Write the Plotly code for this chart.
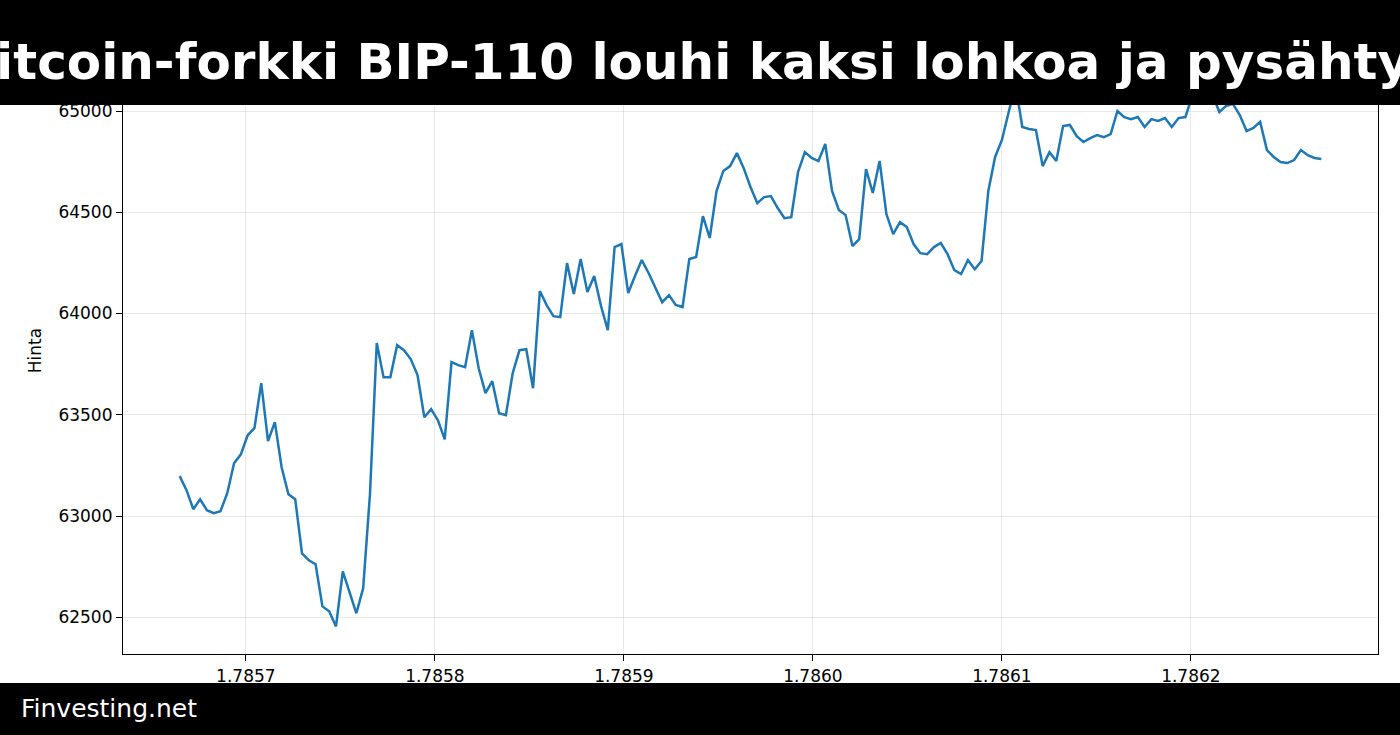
import numpy as np
import plotly.graph_objects as go

prices = [63197,63128,63034,63083,63029,63014,63024,63113,63261,63305,63399,63434,63656,63370,63464,63241,
63108,63083,62816,62782,62762,62554,62530,62455,62727,62619,62520,62644,63108,63854,63686,63686,63844,
63819,63775,63696,63488,63528,63473,63379,63760,63745,63735,63918,63730,63607,63666,63508,63498,63705,
63819,63824,63631,64111,64042,63987,63982,64249,64096,64269,64106,64185,64037,63918,64328,64343,64101,
64185,64264,64200,64130,64056,64091,64042,64032,64269,64279,64481,64373,64605,64704,64728,64792,64718,
64625,64545,64575,64580,64521,64471,64476,64699,64797,64768,64753,64837,64605,64511,64486,64333,64367,
64713,64595,64753,64491,64392,64451,64427,64343,64298,64293,64328,64348,64293,64214,64195,64264,64219,
64259,64605,64773,64857,64995,65130,64921,64911,64906,64728,64797,64753,64926,64931,64876,64847,64866,
64881,64871,64886,65000,64970,64960,64970,64921,64960,64951,64965,64921,64965,64970,65080,65180,65150,
65080,64995,65025,65035,64980,64901,64916,64946,64807,64773,64748,64743,64758,64807,64782,64768,64763]
t_start, t_end = 1.785665, 1.786269
times = np.linspace(t_start, t_end, len(prices))
y_ticks = [62500, 63000, 63500, 64000, 64500, 65000]
x_ticks = [1.7857, 1.7858, 1.7859, 1.7860, 1.7861, 1.7862]
title = "Bitcoin-forkki BIP-110 louhi kaksi lohkoa ja pysähtyy"

fig = go.Figure(go.Scatter(x=times, y=prices, mode="lines",
                           line=dict(color="#1f77b4", width=2.5), hoverinfo="skip"))
ax = dict(showline=True, linecolor="black", linewidth=1.2, mirror=True, ticks="outside",
          ticklen=6, tickcolor="black", gridcolor="rgba(0,0,0,0.09)", zeroline=False,
          tickfont=dict(family="DejaVu Sans", size=17, color="black"))
fig.update_xaxes(range=[1.785635, 1.786299], tickvals=x_ticks,
                 ticktext=[f"{v:.4f}" for v in x_ticks], **ax)
fig.update_yaxes(range=[62319, 65316], tickvals=y_ticks, ticktext=[str(v) for v in y_ticks],
                 title=dict(text="Hinta", font=dict(family="DejaVu Sans", size=17, color="black"), standoff=12), **ax)
fig.update_layout(width=1400, height=735, margin=dict(l=123, r=22, t=47, b=81),
                  plot_bgcolor="white", paper_bgcolor="white", showlegend=False,
                  shapes=[
                      dict(type="rect", xref="paper", yref="paper", x0=-0.2, x1=1.2, y0=0.9045, y1=1.2,
                           fillcolor="black", line=dict(width=0), layer="above"),
                      dict(type="rect", xref="paper", yref="paper", x0=-0.2, x1=1.2, y0=-0.2, y1=-0.0478,
                           fillcolor="black", line=dict(width=0), layer="above"),
                  ],
                  annotations=[
                      dict(text=f"<b>{title}</b>", xref="paper", yref="paper", x=0.4598, y=0.976,
                           xanchor="center", yanchor="middle", showarrow=False,
                           font=dict(family="DejaVu Sans", size=50, color="white")),
                      dict(text="Finvesting.net", xref="paper", yref="paper", x=-0.083, y=-0.090,
                           xanchor="left", yanchor="middle", showarrow=False,
                           font=dict(family="DejaVu Sans", size=25, color="white")),
                  ])
fig.write_html("out.html", config={"displayModeBar": False})
with open("out.html", encoding="utf-8") as f:
    html = f.read()
html = html.replace("<body>", '<body style="margin:0;overflow:hidden">', 1)
with open("out.html", "w", encoding="utf-8") as f:
    f.write(html)
